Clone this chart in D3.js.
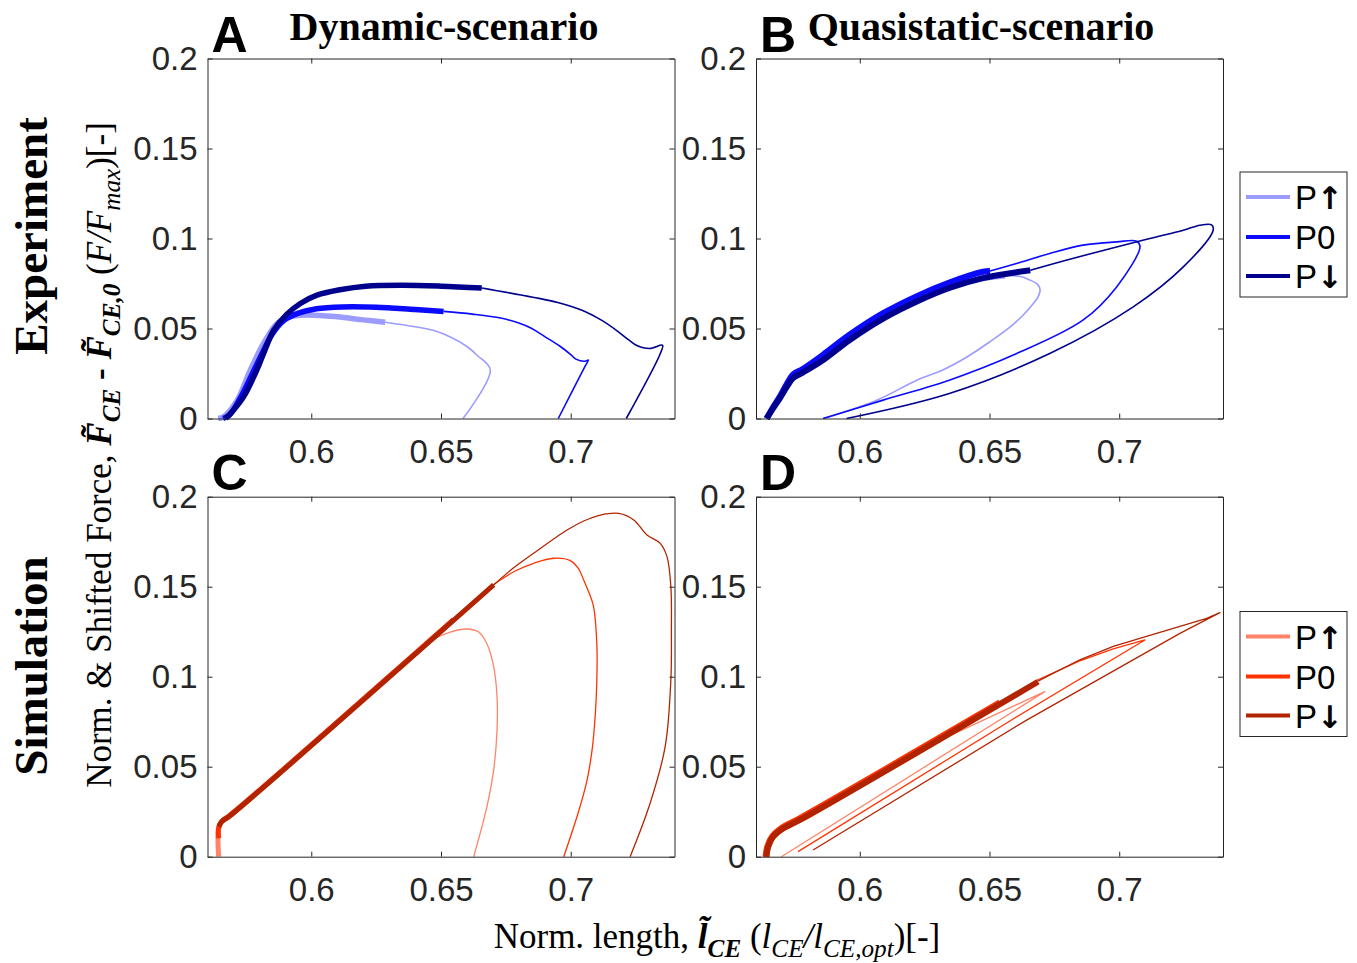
<!DOCTYPE html>
<html><head><meta charset="utf-8">
<script src="https://cdn.jsdelivr.net/npm/d3@7"></script>
<style>body{margin:0;background:#fff} svg{display:block}</style>
</head><body>
<script>
// ---------- axis values ----------
const xDomain = [0.56, 0.74];
const yDomain = [0, 0.2];
const xTicks = [0.6, 0.65, 0.7];
const xTickLabels = ["0.6", "0.65", "0.7"];
const yTicks = [0, 0.05, 0.1, 0.15, 0.2];
const yTickLabels = ["0", "0.05", "0.1", "0.15", "0.2"];
const seriesLabels = ["P↑", "P0", "P↓"];
const expColors = ["#9c9cff", "#0a0aff", "#00008c"];
const simColors = ["#ff8468", "#ff3300", "#b22400"];
const panelLetters = ["A", "B", "C", "D"];
const columnTitles = ["Dynamic-scenario", "Quasistatic-scenario"];
const rowTitles = ["Experiment", "Simulation"];

// ---------- Panel A: dynamic, experiment ----------
const dynExpUpBand = [[0.5641,0],[0.5662,0.001],[0.5714,0.010],[0.5765,0.027],[0.5816,0.0417],[0.5868,0.0528],[0.5919,0.0565],[0.5984,0.0575],[0.610,0.0565],[0.620,0.0548],[0.6285,0.0535]];
const dynExpUpLoop = [[0.6285,0.0535],[0.640,0.051],[0.647,0.049],[0.654,0.045],[0.660,0.040],[0.664,0.035],[0.669,0.027],[0.6585,0]];
const dynExp0Band = [[0.566,0],[0.5685,0.002],[0.5725,0.011],[0.577,0.024],[0.581,0.036],[0.585,0.047],[0.5895,0.0545],[0.595,0.0585],[0.602,0.061],[0.612,0.062],[0.625,0.0618],[0.640,0.0605],[0.651,0.0595]];
const dynExp0Loop = [[0.651,0.0595],[0.662,0.058],[0.673,0.0558],[0.680,0.053],[0.685,0.050],[0.690,0.0455],[0.696,0.040],[0.700,0.0355],[0.702,0.033],[0.7055,0.0318],[0.7068,0.0325],[0.7055,0.029],[0.6952,0]];
const dynExpDnBand = [[0.567,0],[0.570,0.0046],[0.5739,0.012],[0.5784,0.025],[0.5816,0.036],[0.5855,0.049],[0.5906,0.058],[0.5958,0.0639],[0.6022,0.0685],[0.611,0.0715],[0.621,0.0735],[0.635,0.074],[0.650,0.0735],[0.6657,0.0725]];
const dynExpDnLoop = [[0.6657,0.0725],[0.6854,0.0674],[0.695,0.0645],[0.7046,0.060],[0.712,0.0545],[0.7176,0.049],[0.7225,0.0435],[0.7253,0.0407],[0.7304,0.0389],[0.7354,0.0407],[0.7345,0.036],[0.7214,0]];

// ---------- Panel B: quasistatic, experiment ----------
const qsExpUpBand = [[0.5641,0],[0.5665,0.006],[0.5693,0.012],[0.5718,0.018],[0.5743,0.0235],[0.578,0.0265],[0.5859,0.034],[0.596,0.045],[0.609,0.057],[0.622,0.0665],[0.6345,0.0735],[0.6475,0.078],[0.656,0.0795]];
const qsExpUpLoop = [[0.656,0.0795],[0.6615,0.079],[0.6655,0.077],[0.6685,0.0745],[0.6695,0.0713],[0.6685,0.067],[0.6669,0.0639],[0.663,0.0575],[0.658,0.0509],[0.650,0.0425],[0.6413,0.0342],[0.632,0.027],[0.622,0.0213],[0.6066,0.0102],[0.5859,0]];
const qsExp0Band = [[0.5641,0],[0.5665,0.006],[0.5693,0.0125],[0.5718,0.019],[0.5743,0.0245],[0.578,0.0275],[0.5859,0.0355],[0.596,0.0465],[0.609,0.0585],[0.622,0.068],[0.6345,0.0755],[0.6475,0.0815],[0.6502,0.082]];
const qsExp0Loop = [[0.6502,0.082],[0.6604,0.0861],[0.6732,0.0917],[0.686,0.0963],[0.699,0.0981],[0.7067,0.0985],[0.708,0.0955],[0.699,0.0731],[0.686,0.0546],[0.6605,0.0361],[0.6345,0.0213],[0.609,0.0102],[0.5859,0]];
const qsExpDnBand = [[0.5641,0],[0.5665,0.0055],[0.5693,0.0115],[0.5718,0.0175],[0.5743,0.0225],[0.578,0.0255],[0.5859,0.0325],[0.596,0.0435],[0.609,0.0555],[0.622,0.065],[0.6345,0.0725],[0.6475,0.078],[0.6657,0.0824]];
const qsExpDnLoop = [[0.6657,0.0824],[0.6795,0.0879],[0.699,0.0953],[0.7118,0.1],[0.7247,0.1046],[0.7311,0.1074],[0.7356,0.1076],[0.7362,0.1046],[0.7247,0.0842],[0.7054,0.062],[0.6732,0.0361],[0.6345,0.0139],[0.5949,0]];

// ---------- Panel C: dynamic, simulation ----------
const dynSimUpBand = [[0.5643,0],[0.5643,0.016],[0.5655,0.0195],[0.5688,0.0229],[0.6317,0.1023]];
const dynSimUpLoop = [[0.6317,0.1023],[0.6446,0.1186],[0.6536,0.1248],[0.660,0.1265],[0.6645,0.1248],[0.6677,0.1183],[0.6703,0.1056],[0.6716,0.0889],[0.6716,0.0704],[0.6703,0.0482],[0.6677,0.0278],[0.6626,0]];
const dynSim0Band = [[0.5643,0.0102],[0.5643,0.016],[0.5655,0.0197],[0.5688,0.0232],[0.6549,0.1318]];
const dynSim0Loop = [[0.6549,0.1318],[0.6703,0.1512],[0.679,0.159],[0.6857,0.163],[0.6934,0.1658],[0.6998,0.1645],[0.703,0.160],[0.705,0.1537],[0.7075,0.145],[0.7088,0.1389],[0.7101,0.1167],[0.710,0.095],[0.7095,0.0797],[0.7083,0.060],[0.7063,0.0426],[0.703,0.025],[0.6973,0]];
const dynSimDnBand = [[0.5643,0.0167],[0.5655,0.0195],[0.5688,0.0229],[0.6703,0.151]];
const dynSimDnLoop = [[0.6703,0.151],[0.678,0.1605],[0.6857,0.1686],[0.6986,0.1815],[0.705,0.1865],[0.7114,0.1898],[0.7185,0.1907],[0.7243,0.1871],[0.7294,0.1787],[0.7345,0.1741],[0.7371,0.1667],[0.7386,0.150],[0.7388,0.125],[0.7386,0.0982],[0.7364,0.0611],[0.7306,0.0297],[0.7229,0]];

// ---------- Panel D: quasistatic, simulation ----------
const qsSimUpBand = [[0.564,0],[0.5647,0.0056],[0.5666,0.0111],[0.5704,0.0157],[0.5769,0.0204],[0.6321,0.0666]];
const qsSimUpLoop = [[0.6321,0.0655],[0.6713,0.0917],[0.5698,0]];
const qsSim0Band = [[0.5637,0],[0.5644,0.0059],[0.5663,0.0115],[0.5701,0.0163],[0.5766,0.0212],[0.654,0.0857]];
const qsSim0Loop = [[0.654,0.0857],[0.6687,0.0983],[0.6848,0.1088],[0.6977,0.1154],[0.7099,0.1204],[0.6591,0.0765],[0.5762,0.0028]];
const qsSimDnBand = [[0.564,0],[0.5647,0.0056],[0.5666,0.0111],[0.5704,0.0157],[0.5769,0.0204],[0.6687,0.0972]];
const qsSimDnLoop = [[0.6687,0.0975],[0.6848,0.1094],[0.6977,0.1168],[0.7105,0.1224],[0.7234,0.128],[0.7337,0.1324],[0.7388,0.1356],[0.7234,0.1241],[0.6643,0.0759],[0.582,0.0037]];

// ---------- layout ----------
const W = 467, H = 360;
const panels = [
  {x0: 207.5, y0: 58.5, colors: expColors, bandW: 5.5, thinW: 1.6,
   series: [[dynExpUpBand, dynExpUpLoop], [dynExp0Band, dynExp0Loop], [dynExpDnBand, dynExpDnLoop]]},
  {x0: 756, y0: 58.5, colors: expColors, bandW: 6, thinW: 1.6,
   series: [[qsExpUpBand, qsExpUpLoop], [qsExp0Band, qsExp0Loop], [qsExpDnBand, qsExpDnLoop]]},
  {x0: 207.5, y0: 496.7, colors: simColors, bandW: 5, thinW: 1.3,
   series: [[dynSimUpBand, dynSimUpLoop], [dynSim0Band, dynSim0Loop], [dynSimDnBand, dynSimDnLoop]]},
  {x0: 756, y0: 496.7, colors: simColors, bandW: 6, thinW: 1.3,
   series: [[qsSimUpBand, qsSimUpLoop], [qsSim0Band, qsSim0Loop], [qsSimDnBand, qsSimDnLoop]]}
];

const svg = d3.select("body").append("svg").attr("width", 1357).attr("height", 963);
const axisColor = "#262626";
const sans = "'Liberation Sans', Arial, Helvetica, sans-serif";
const serif = "'Liberation Serif', 'Times New Roman', Times, serif";
const tickFs = 33;

panels.forEach((p, pi) => {
  const g = svg.append("g").attr("transform", `translate(${p.x0},${p.y0})`);
  const x = d3.scaleLinear().domain(xDomain).range([0, W]);
  const y = d3.scaleLinear().domain(yDomain).range([H, 0]);
  g.append("rect").attr("width", W).attr("height", H).attr("fill", "#fff");

  const line = d3.line().x(d => x(d[0])).y(d => y(d[1])).curve(d3.curveCatmullRom.alpha(0.5));
  const lineLin = d3.line().x(d => x(d[0])).y(d => y(d[1]));
  const thinLine = pi === 3 ? lineLin : line;
  p.series.forEach((s, si) => {
    g.append("path").attr("d", line(s[0])).attr("fill", "none")
      .attr("stroke", p.colors[si]).attr("stroke-width", p.bandW)
      .attr("stroke-linejoin", "round").attr("stroke-linecap", "butt");
    g.append("path").attr("d", thinLine(s[1])).attr("fill", "none")
      .attr("stroke", p.colors[si]).attr("stroke-width", p.thinW)
      .attr("stroke-linejoin", "round");
  });

  const styleAxis = sel => {
    sel.selectAll(".domain").attr("stroke", axisColor).attr("stroke-width", 1);
    sel.selectAll(".tick line").attr("stroke", axisColor).attr("stroke-width", 1);
    sel.attr("font-family", sans).attr("font-size", tickFs);
    sel.selectAll("text").attr("fill", axisColor);
  };
  g.append("g").attr("transform", `translate(0,${H})`)
    .call(d3.axisBottom(x).tickValues(xTicks).tickFormat((d, i) => xTickLabels[i]).tickSizeInner(-5).tickSizeOuter(0).tickPadding(21))
    .call(styleAxis);
  g.append("g")
    .call(d3.axisTop(x).tickValues(xTicks).tickFormat("").tickSizeInner(-5).tickSizeOuter(0))
    .call(styleAxis);
  g.append("g")
    .call(d3.axisLeft(y).tickValues(yTicks).tickFormat((d, i) => yTickLabels[i]).tickSizeInner(-5).tickSizeOuter(0).tickPadding(10))
    .call(styleAxis);
  g.append("g").attr("transform", `translate(${W},0)`)
    .call(d3.axisRight(y).tickValues(yTicks).tickFormat("").tickSizeInner(-5).tickSizeOuter(0))
    .call(styleAxis);

  svg.append("text").attr("x", p.x0 + 4).attr("y", p.y0 - 7)
    .attr("font-family", sans).attr("font-weight", "bold").attr("font-size", 50)
    .text(panelLetters[pi]);
});

// column titles
[[444, 40], [981, 40]].forEach((pos, i) => {
  svg.append("text").attr("x", pos[0]).attr("y", pos[1]).attr("text-anchor", "middle")
    .attr("font-family", serif).attr("font-weight", "bold").attr("font-size", 40)
    .text(columnTitles[i]);
});
// row titles
[[47, 236], [47, 666]].forEach((pos, i) => {
  svg.append("text").attr("transform", `translate(${pos[0]},${pos[1]}) rotate(-90)`)
    .attr("text-anchor", "middle")
    .attr("font-family", serif).attr("font-weight", "bold").attr("font-size", 47)
    .text(rowTitles[i]);
});

// rich text helper
function rich(textSel, parts, fs) {
  parts.forEach(pt => {
    const t = textSel.append("tspan").text(pt.t);
    if (pt.b) t.attr("font-weight", "bold");
    if (pt.i) t.attr("font-style", "italic");
    if (pt.sub) t.attr("font-size", fs * 0.72).attr("dy", fs * 0.25);
    if (pt.up) t.attr("dy", -fs * 0.25);
  });
}
const labFs = 35;
// y label
const yl = svg.append("text").attr("transform", "translate(111,455) rotate(-90)")
  .attr("text-anchor", "middle").attr("font-family", serif).attr("font-size", labFs).attr("fill", "#000");
rich(yl, [
  {t: "Norm. & Shifted Force, "},
  {t: "F\u0303", b: 1, i: 1},
  {t: "CE", b: 1, i: 1, sub: 1},
  {t: " - ", b: 1, up: 1},
  {t: "F\u0303", b: 1, i: 1},
  {t: "CE,0", b: 1, i: 1, sub: 1},
  {t: " (", up: 1},
  {t: "F/F", i: 1},
  {t: "max", i: 1, sub: 1},
  {t: ")[-]", up: 1}
], labFs);
// x label
const xl = svg.append("text").attr("x", 717).attr("y", 948)
  .attr("text-anchor", "middle").attr("font-family", serif).attr("font-size", labFs).attr("fill", "#000");
rich(xl, [
  {t: "Norm. length, "},
  {t: "l\u0303", b: 1, i: 1},
  {t: "CE", b: 1, i: 1, sub: 1},
  {t: " (", up: 1},
  {t: "l", i: 1},
  {t: "CE", i: 1, sub: 1},
  {t: "/", i: 1, up: 1},
  {t: "l", i: 1},
  {t: "CE,opt", i: 1, sub: 1},
  {t: ")[-]", up: 1}
], labFs);

// legends
function legend(x0, y0, colors) {
  const g = svg.append("g").attr("transform", `translate(${x0},${y0})`);
  g.append("rect").attr("width", 107).attr("height", 125).attr("fill", "#fff")
    .attr("stroke", axisColor).attr("stroke-width", 1);
  const rowY = [25, 65, 104];
  seriesLabels.forEach((lab, i) => {
    g.append("line").attr("x1", 6).attr("x2", 50).attr("y1", rowY[i]).attr("y2", rowY[i])
      .attr("stroke", colors[i]).attr("stroke-width", 4);
    const t = g.append("text").attr("x", 55).attr("y", rowY[i] + 12)
      .attr("font-family", sans).attr("font-size", 33).attr("fill", "#000");
    t.append("tspan").text(lab[0]);
    const rest = lab.slice(1);
    const sp = t.append("tspan").text(rest);
    if (rest !== "0") sp.attr("font-family", "'DejaVu Sans', sans-serif").attr("font-weight", "bold").attr("font-size", 31);
  });
}
legend(1240, 172, expColors);
legend(1240, 611.5, simColors);
</script>
</body></html>
